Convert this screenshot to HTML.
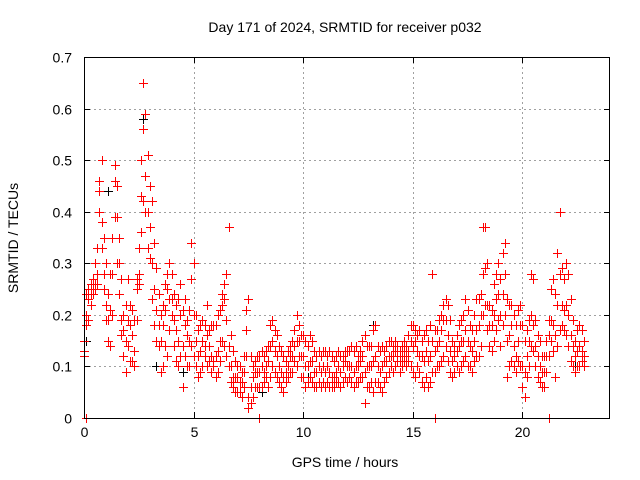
<!DOCTYPE html>
<html><head><meta charset="utf-8"><style>
body{margin:0;background:#fff}
svg{display:block;font-family:"Liberation Sans",sans-serif}
</style></head><body>
<svg id="chart" width="640" height="480" xmlns="http://www.w3.org/2000/svg">
<rect width="640" height="480" fill="#fff"/>
<text x="345" y="32" text-anchor="middle" font-size="14" fill="#000">Day 171 of 2024, SRMTID for receiver p032</text>
<text transform="translate(18,238) rotate(-90)" text-anchor="middle" font-size="14" fill="#000">SRMTID / TECUs</text>
<text x="345" y="467" text-anchor="middle" font-size="14" fill="#000">GPS time / hours</text>
<g id="grid"></g>
<g id="ticks"></g>
<g id="marks"></g>
<rect x="84.5" y="57.5" width="525" height="361" fill="none" stroke="#000" stroke-width="1"/>
</svg>
<script>
const xTicks=[0,5,10,15,20];
const yTicks=[0,0.1,0.2,0.3,0.4,0.5,0.6,0.7];
const yTickLabels=["0","0.1","0.2","0.3","0.4","0.5","0.6","0.7"];
const tStart=0, tStep=0.1;
const redA=[0.15,0.24,0.25,0.26,0.27,0.30,0.33,0.46,0.50,0.35,
0.30,0.24,0.28,0.35,0.49,0.45,0.35,0.27,0.20,0.22,
0.27,0.22,0.21,0.19,0.27,0.33,0.50,0.65,0.59,0.51,
0.45,0.42,0.34,0.29,0.24,0.20,0.22,0.26,0.28,0.30,
0.28,0.24,0.22,0.23,0.26,0.21,0.23,0.19,0.21,0.34,
0.30,0.20,0.17,0.18,0.19,0.18,0.22,0.17,0.18,0.18,
0.18,0.20,0.21,0.24,0.26,0.28,0.37,0.16,0.13,0.11,
0.10,0.10,0.09,0.12,0.21,0.23,0.12,0.10,0.11,0.12,
0.12,0.13,0.12,0.13,0.14,0.18,0.19,0.17,0.16,0.14,
0.13,0.12,0.11,0.13,0.14,0.15,0.17,0.20,0.18,0.16,
0.16,0.15,0.14,0.16,0.15,0.13,0.12,0.13,0.12,0.13,
0.13,0.12,0.13,0.12,0.11,0.12,0.13,0.12,0.12,0.13,
0.13,0.13,0.14,0.13,0.14,0.12,0.13,0.15,0.16,0.14,
0.14,0.14,0.17,0.18,0.14,0.13,0.14,0.13,0.14,0.15,
0.15,0.14,0.15,0.14,0.13,0.14,0.15,0.14,0.16,0.18,
0.18,0.17,0.16,0.17,0.15,0.16,0.17,0.15,0.18,0.28,
0.17,0.17,0.19,0.20,0.22,0.23,0.22,0.19,0.15,0.14,
0.16,0.18,0.19,0.20,0.23,0.21,0.18,0.17,0.20,0.23,
0.23,0.24,0.37,0.37,0.30,0.22,0.21,0.26,0.28,0.30,
0.27,0.32,0.34,0.23,0.22,0.22,0.20,0.18,0.21,0.22,
0.18,0.15,0.17,0.19,0.28,0.27,0.19,0.16,0.15,0.12,
0.12,0.15,0.19,0.25,0.27,0.24,0.32,0.40,0.29,0.27,
0.30,0.28,0.23,0.19,0.15,0.17,0.18,0.17,0.15];
const redB=[0.12,0.18,0.19,0.22,0.24,0.25,0.26,0.40,0.38,0.28,
0.19,0.15,0.14,0.20,0.39,0.30,0.24,0.16,0.12,0.09,
0.14,0.11,0.11,0.10,0.19,0.26,0.36,0.42,0.40,0.33,
0.31,0.23,0.18,0.15,0.14,0.09,0.10,0.14,0.12,0.17,
0.20,0.14,0.11,0.10,0.12,0.06,0.12,0.10,0.10,0.14,
0.12,0.10,0.08,0.09,0.10,0.12,0.10,0.11,0.09,0.10,
0.08,0.09,0.11,0.15,0.14,0.12,0.10,0.07,0.06,0.05,
0.05,0.05,0.04,0.06,0.12,0.02,0.03,0.04,0.06,0.06,
0.06,0.06,0.07,0.08,0.06,0.08,0.10,0.09,0.08,0.07,
0.06,0.05,0.07,0.08,0.09,0.09,0.11,0.10,0.12,0.08,
0.08,0.06,0.07,0.08,0.07,0.06,0.06,0.07,0.06,0.07,
0.06,0.07,0.06,0.06,0.06,0.07,0.07,0.06,0.07,0.08,
0.07,0.08,0.07,0.06,0.07,0.07,0.08,0.08,0.03,0.06,
0.06,0.07,0.05,0.07,0.07,0.06,0.05,0.07,0.08,0.09,
0.10,0.09,0.10,0.11,0.09,0.10,0.11,0.10,0.11,0.10,
0.09,0.08,0.10,0.09,0.07,0.06,0.08,0.06,0.07,0.09,
0.09,0.10,0.10,0.11,0.12,0.14,0.11,0.09,0.08,0.09,
0.10,0.09,0.10,0.11,0.12,0.10,0.10,0.09,0.11,0.12,
0.12,0.14,0.20,0.22,0.17,0.14,0.13,0.15,0.17,0.19,
0.14,0.18,0.20,0.08,0.10,0.11,0.10,0.09,0.11,0.10,
0.06,0.04,0.08,0.10,0.14,0.13,0.10,0.08,0.07,0.06,
0.06,0.09,0.12,0.15,0.13,0.08,0.14,0.17,0.18,0.17,
0.16,0.14,0.11,0.10,0.09,0.10,0.10,0.11,0.10];
const redC=[0.13,0.20,0.23,0.24,0.25,0.26,0.28,0.44,0.33,0.25,
0.22,0.19,0.21,0.28,0.46,0.39,0.30,0.19,0.17,0.15,
0.19,0.18,0.16,0.13,0.25,0.28,0.43,0.56,0.47,0.40,
0.37,0.30,0.25,0.21,0.18,0.15,0.18,0.21,0.25,0.23,
0.23,0.19,0.17,0.15,0.20,0.14,0.18,0.16,0.15,0.27,
0.20,0.15,0.12,0.13,0.15,0.14,0.16,0.14,0.12,0.11,
0.12,0.13,0.15,0.22,0.23,0.19,0.14,0.10,0.08,0.08,
0.08,0.07,0.07,0.09,0.17,0.04,0.06,0.08,0.09,0.09,
0.09,0.10,0.09,0.10,0.11,0.14,0.15,0.13,0.12,0.10,
0.09,0.08,0.09,0.10,0.12,0.12,0.14,0.15,0.15,0.12,
0.12,0.10,0.10,0.11,0.11,0.09,0.09,0.10,0.09,0.10,
0.09,0.10,0.09,0.08,0.08,0.09,0.10,0.09,0.10,0.11,
0.10,0.10,0.10,0.09,0.10,0.10,0.11,0.12,0.09,0.10,
0.10,0.10,0.11,0.12,0.10,0.09,0.10,0.11,0.11,0.12,
0.12,0.12,0.13,0.12,0.11,0.12,0.13,0.12,0.13,0.15,
0.14,0.15,0.13,0.12,0.12,0.11,0.13,0.11,0.12,0.15,
0.13,0.14,0.15,0.17,0.19,0.19,0.16,0.13,0.11,0.12,
0.13,0.14,0.15,0.15,0.17,0.15,0.14,0.13,0.15,0.17,
0.18,0.20,0.28,0.29,0.22,0.18,0.18,0.20,0.23,0.24,
0.20,0.24,0.28,0.15,0.16,0.18,0.14,0.12,0.15,0.18,
0.10,0.09,0.12,0.15,0.20,0.18,0.14,0.12,0.10,0.09,
0.09,0.12,0.16,0.19,0.18,0.16,0.22,0.28,0.22,0.21,
0.22,0.20,0.16,0.14,0.12,0.13,0.14,0.13,0.12];
const blackT=[0.1,0.8,1.1,2.7,3.3,4.5,6.3,8.1,10.2,13.2,15.3,18.7,21.7,22.4];
const blackV=[0.15,0.50,0.44,0.58,0.10,0.09,0.24,0.05,0.08,0.18,0.17,0.20,0.40,0.10];
const zeroT=[0.1,8.0,16.0,21.2];

const X0=84,X1=610,Y0=418,Y1=57,XMAX=24,YMAX=0.7;
const sx=t=>X0+(X1-X0)*t/XMAX;
const sy=v=>Y0-(Y0-Y1)*v/YMAX;
const NS="http://www.w3.org/2000/svg";
function mk(tag,attrs,parent){const e=document.createElementNS(NS,tag);for(const k in attrs)e.setAttribute(k,attrs[k]);parent.appendChild(e);return e;}
const grid=document.getElementById('grid'),ticks=document.getElementById('ticks'),marks=document.getElementById('marks');
xTicks.forEach((t,i)=>{
  const x=Math.round(sx(t))+0.5;
  if(t>0){const g=mk('line',{x1:x,y1:Y1,x2:x,y2:Y0,stroke:'#a0a0a0','stroke-dasharray':'2,3'},grid);
  
  }
  const a=mk('path',{d:`M${x},${Y0}v-6M${x},${Y1}v6`,stroke:'#000'},ticks);
  
  
  const l=mk('text',{x:x,y:Y0+19,'text-anchor':'middle','font-size':'14'},ticks);l.textContent=String(t);
  
  
});
yTicks.forEach((v,i)=>{
  const y=Math.round(sy(v))+0.5;
  if(v>0&&v<YMAX-1e-9){const g=mk('line',{x1:X0,y1:y,x2:X1,y2:y,stroke:'#a0a0a0','stroke-dasharray':'2,3'},grid);
  
  }
  const a=mk('path',{d:`M${X0},${y}h6M${X1},${y}h-6`,stroke:'#000'},ticks);
  
  
  const l=mk('text',{x:X0-12,y:y+5,'text-anchor':'end','font-size':'14'},ticks);l.textContent=yTickLabels[i];
  
  
});
function plus(t,v,color){
  const x=Math.round(sx(t)),y=Math.round(sy(v));
  const g=mk('g',{fill:color},marks);
  mk('rect',{x:x-4,y:y,width:9,height:1},g);
  mk('rect',{x:x,y:y-4,width:1,height:9},g);
  return g;
}
blackT.forEach((t,i)=>{const p=plus(t,blackV[i],'#000000');
  
  });
[redA,redB,redC].forEach(arr=>arr.forEach((v,i)=>{
  const p=plus(tStart+i*tStep,v,'#ff0000');
  
  
}));
zeroT.forEach(t=>{const p=plus(t,0,'#ff0000');
  
  });
</script>
</body></html>
